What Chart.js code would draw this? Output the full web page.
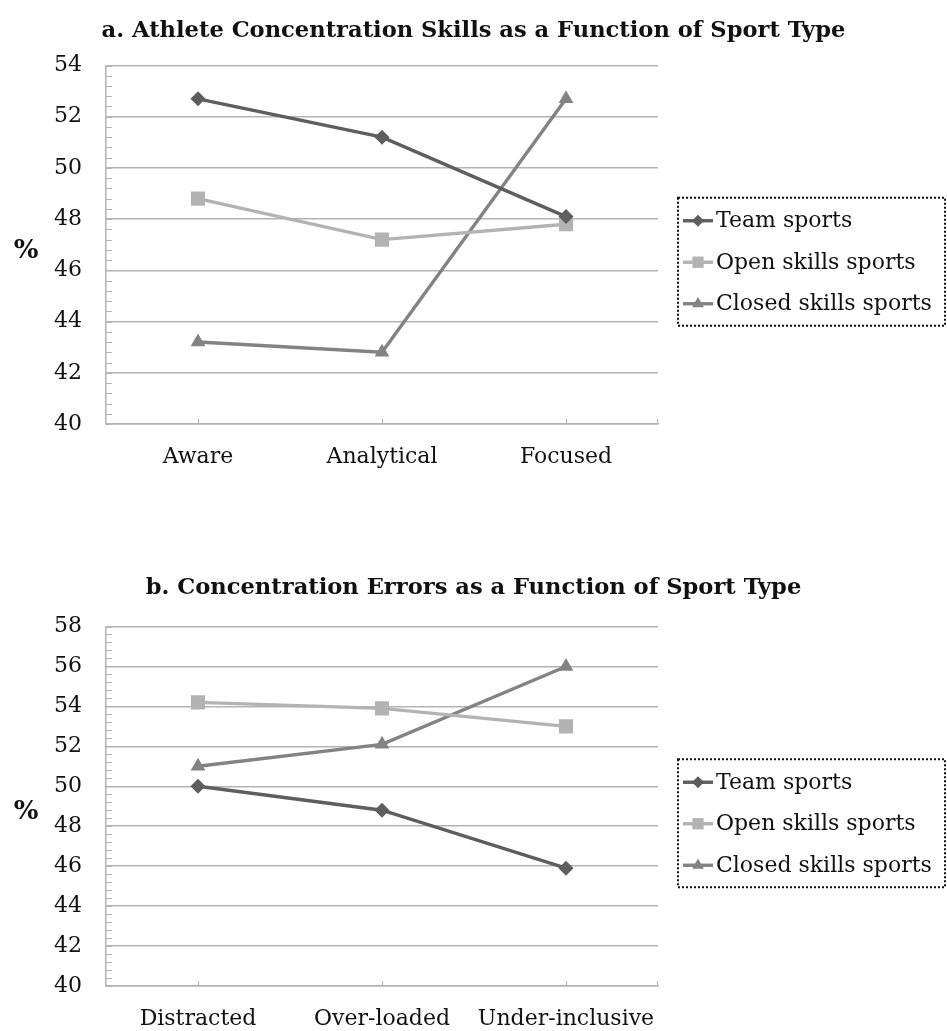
<!DOCTYPE html>
<html lang="en">
<head>
    <meta charset="UTF-8">
    <title>Concentration Skills and Errors by Sport Type</title>
    <script src="https://cdn.jsdelivr.net/npm/chart.js"></script>
    <style>
        html, body { margin: 0; padding: 0; background: #fff; }
        body { width: 947px; height: 1031px; position: relative; overflow: hidden; }
        .panel { position: absolute; left: 0; width: 947px; }
        #panelA { top: 0; height: 500px; }
        #panelB { top: 557px; height: 474px; }
    </style>
</head>
<body>
    <div id="panelA" class="panel"><canvas id="chartA"></canvas></div>
    <div id="panelB" class="panel"><canvas id="chartB"></canvas></div>

    <script>
        // Data
        const seriesNames = ['Team sports', 'Open skills sports', 'Closed skills sports'];

        const skillCategories = ['Aware', 'Analytical', 'Focused'];
        const skillTeam = [52.7, 51.2, 48.1];
        const skillOpen = [48.8, 47.2, 47.8];
        const skillClosed = [43.2, 42.8, 52.7];

        const errorCategories = ['Distracted', 'Over-loaded', 'Under-inclusive'];
        const errorTeam = [50.0, 48.8, 45.9];
        const errorOpen = [54.2, 53.9, 53.0];
        const errorClosed = [51.0, 52.1, 56.0];

        const skillTicks = [40, 54, 2];   // min, max, step
        const errorTicks = [40, 58, 2];
        const minorStep = 0.4;

        const SERIF = "'DejaVu Serif', serif";
        const GRID = '#b4b4b4';
        const seriesStyle = [
            { color: '#5e5e5e', point: 'rectRot', radius: 7.5 },
            { color: '#b3b3b3', point: 'rect', radius: 10 },
            { color: '#838383', point: 'triangle', radius: 8.5 }
        ];

        function makeDatasets(values) {
            return values.map((vals, i) => ({
                label: seriesNames[i],
                data: vals,
                borderColor: seriesStyle[i].color,
                backgroundColor: seriesStyle[i].color,
                borderWidth: 3.4,
                pointStyle: seriesStyle[i].point,
                pointRadius: seriesStyle[i].radius,
                pointBorderWidth: 0,
                pointBackgroundColor: seriesStyle[i].color,
                tension: 0
            }));
        }

        // title, minor ticks on y, small tick marks on x, the "%" label and the dotted legend
        const extrasPlugin = {
            id: 'extras',
            afterDraw(chart, args, opts) {
                const ctx = chart.ctx;
                const area = chart.chartArea;
                const y = chart.scales.y;
                const x = chart.scales.x;
                ctx.save();

                ctx.fillStyle = '#111';
                ctx.font = "bold 22.6px " + SERIF;
                ctx.textAlign = 'center';
                ctx.textBaseline = 'middle';
                ctx.fillText(opts.title, chart.width / 2, 31);

                ctx.strokeStyle = GRID;
                ctx.lineWidth = 1;
                ctx.beginPath();
                for (let v = y.min; v <= y.max + 1e-6; v += minorStep) {
                    const py = Math.round(y.getPixelForValue(v)) + 0.5;
                    ctx.moveTo(area.left, py);
                    ctx.lineTo(area.left + 6, py);
                }
                for (let i = 0; i < chart.data.labels.length; i++) {
                    const px = Math.round(x.getPixelForValue(i)) + 0.5;
                    ctx.moveTo(px, area.bottom);
                    ctx.lineTo(px, area.bottom - 5);
                }
                ctx.moveTo(area.right - 0.5, area.bottom);
                ctx.lineTo(area.right - 0.5, area.bottom - 5);
                ctx.stroke();

                // axis label
                ctx.font = "bold 26px " + SERIF;
                ctx.fillText('%', 26, (area.top + area.bottom) / 2 + 6);

                // legend
                const lx = 678, lw = 267, lh = 128;
                const ly = (area.top + area.bottom) / 2 + 17 - lh / 2;
                ctx.setLineDash([2, 2]);
                ctx.strokeStyle = '#111';
                ctx.lineWidth = 2;
                ctx.strokeRect(lx, ly, lw, lh);
                ctx.setLineDash([]);
                ctx.font = "22px " + SERIF;
                ctx.textAlign = 'left';
                chart.data.datasets.forEach((ds, i) => {
                    const cy = ly + 23 + i * 41.5;
                    ctx.strokeStyle = ds.borderColor;
                    ctx.lineWidth = 3.4;
                    ctx.beginPath();
                    ctx.moveTo(lx + 5, cy);
                    ctx.lineTo(lx + 35, cy);
                    ctx.stroke();
                    ctx.fillStyle = ds.pointBackgroundColor;
                    Chart.helpers.drawPoint(ctx, {
                        pointStyle: ds.pointStyle,
                        radius: ds.pointRadius * 0.8,
                        rotation: 0,
                        borderWidth: 0
                    }, lx + 20, cy);
                    ctx.fillStyle = '#111';
                    ctx.fillText(ds.label, lx + 38, cy + 1);
                });
                ctx.restore();
            }
        };

        function buildChart(canvasId, title, labels, values, ticks, topPad, xHeight) {
            return new Chart(document.getElementById(canvasId), {
                type: 'line',
                data: { labels: labels, datasets: makeDatasets(values) },
                plugins: [extrasPlugin],
                options: {
                    responsive: true,
                    maintainAspectRatio: false,
                    animation: false,
                    layout: { padding: { left: 0, right: 289, top: topPad, bottom: 0 } },
                    plugins: {
                        legend: { display: false },
                        tooltip: { enabled: false },
                        title: { display: false },
                        extras: { title: title }
                    },
                    scales: {
                        x: {
                            offset: true,
                            grid: { display: false, drawTicks: false },
                            border: { display: true, color: GRID, width: 1.5 },
                            ticks: { color: '#111', font: { family: SERIF, size: 22 }, padding: 20, maxRotation: 0, autoSkip: false },
                            afterFit: s => { s.height = xHeight; }
                        },
                        y: {
                            min: ticks[0],
                            max: ticks[1],
                            grid: { color: GRID, lineWidth: 1.5, drawTicks: false },
                            border: { display: true, color: GRID, width: 1.5 },
                            ticks: { stepSize: ticks[2], color: '#111', font: { family: SERIF, size: 22 }, padding: 24 },
                            afterFit: s => { s.width = 106; }
                        }
                    }
                }
            });
        }

        buildChart('chartA', 'a. Athlete Concentration Skills as a Function of Sport Type',
            skillCategories, [skillTeam, skillOpen, skillClosed], skillTicks, 65.5, 76);
        buildChart('chartB', 'b. Concentration Errors as a Function of Sport Type',
            errorCategories, [errorTeam, errorOpen, errorClosed], errorTicks, 69.5, 45);
    </script>
</body>
</html>
